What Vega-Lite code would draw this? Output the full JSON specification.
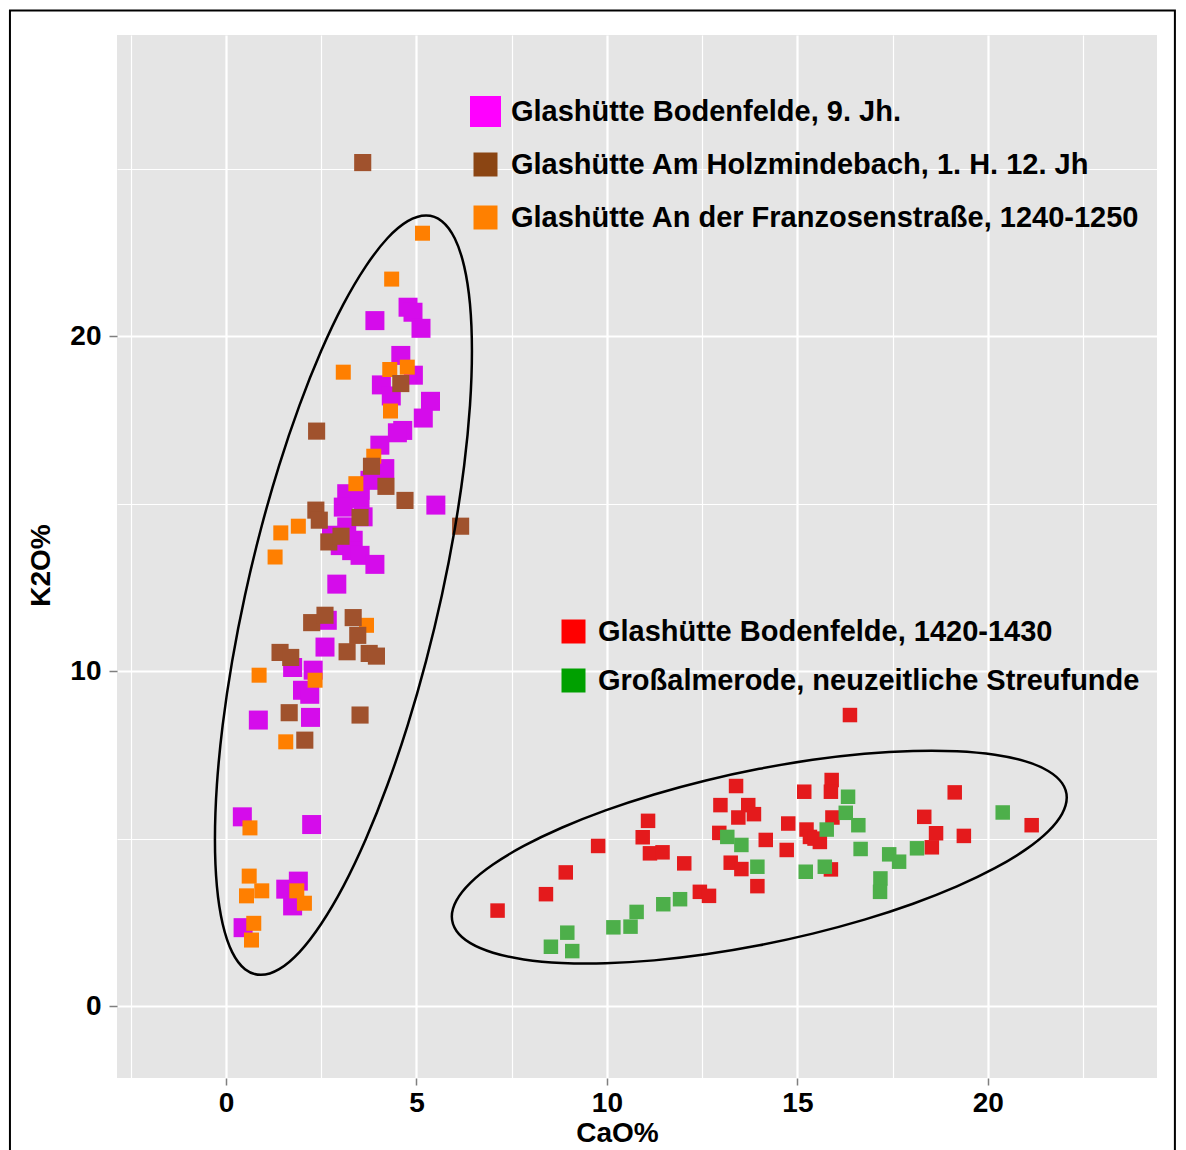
{
"$schema": "https://vega.github.io/schema/vega-lite/v6.json",
"width": 1040, "height": 1043,
"autosize": {"type": "none"},
"padding": {"left": 117, "top": 35, "right": 29, "bottom": 72},
"background": "white",
"config": {"view": {"fill": "#E5E5E5", "stroke": null}, "font": "Liberation Sans"},
"datasets": {
"pts": [
{"series":"Glashütte Bodenfelde, 9. Jh.","CaO":3.91,"K2O":20.47},
{"series":"Glashütte Bodenfelde, 9. Jh.","CaO":4.78,"K2O":20.87},
{"series":"Glashütte Bodenfelde, 9. Jh.","CaO":4.91,"K2O":20.72},
{"series":"Glashütte Bodenfelde, 9. Jh.","CaO":5.12,"K2O":20.24},
{"series":"Glashütte Bodenfelde, 9. Jh.","CaO":4.59,"K2O":19.43},
{"series":"Glashütte Bodenfelde, 9. Jh.","CaO":4.92,"K2O":18.84},
{"series":"Glashütte Bodenfelde, 9. Jh.","CaO":4.08,"K2O":18.55},
{"series":"Glashütte Bodenfelde, 9. Jh.","CaO":4.34,"K2O":18.22},
{"series":"Glashütte Bodenfelde, 9. Jh.","CaO":5.37,"K2O":18.06},
{"series":"Glashütte Bodenfelde, 9. Jh.","CaO":5.18,"K2O":17.56},
{"series":"Glashütte Bodenfelde, 9. Jh.","CaO":4.64,"K2O":17.19},
{"series":"Glashütte Bodenfelde, 9. Jh.","CaO":4.50,"K2O":17.12},
{"series":"Glashütte Bodenfelde, 9. Jh.","CaO":4.04,"K2O":16.75},
{"series":"Glashütte Bodenfelde, 9. Jh.","CaO":4.17,"K2O":16.05},
{"series":"Glashütte Bodenfelde, 9. Jh.","CaO":3.78,"K2O":15.70},
{"series":"Glashütte Bodenfelde, 9. Jh.","CaO":3.52,"K2O":15.40},
{"series":"Glashütte Bodenfelde, 9. Jh.","CaO":3.17,"K2O":15.30},
{"series":"Glashütte Bodenfelde, 9. Jh.","CaO":3.08,"K2O":14.90},
{"series":"Glashütte Bodenfelde, 9. Jh.","CaO":3.52,"K2O":15.16},
{"series":"Glashütte Bodenfelde, 9. Jh.","CaO":5.51,"K2O":14.96},
{"series":"Glashütte Bodenfelde, 9. Jh.","CaO":3.60,"K2O":14.61},
{"series":"Glashütte Bodenfelde, 9. Jh.","CaO":3.17,"K2O":14.31},
{"series":"Glashütte Bodenfelde, 9. Jh.","CaO":2.77,"K2O":14.06},
{"series":"Glashütte Bodenfelde, 9. Jh.","CaO":3.34,"K2O":13.91},
{"series":"Glashütte Bodenfelde, 9. Jh.","CaO":3.00,"K2O":13.75},
{"series":"Glashütte Bodenfelde, 9. Jh.","CaO":3.30,"K2O":13.60},
{"series":"Glashütte Bodenfelde, 9. Jh.","CaO":3.52,"K2O":13.46},
{"series":"Glashütte Bodenfelde, 9. Jh.","CaO":3.91,"K2O":13.19},
{"series":"Glashütte Bodenfelde, 9. Jh.","CaO":2.91,"K2O":12.60},
{"series":"Glashütte Bodenfelde, 9. Jh.","CaO":2.66,"K2O":11.52},
{"series":"Glashütte Bodenfelde, 9. Jh.","CaO":2.60,"K2O":10.72},
{"series":"Glashütte Bodenfelde, 9. Jh.","CaO":1.75,"K2O":10.11},
{"series":"Glashütte Bodenfelde, 9. Jh.","CaO":2.29,"K2O":10.03},
{"series":"Glashütte Bodenfelde, 9. Jh.","CaO":2.01,"K2O":9.43},
{"series":"Glashütte Bodenfelde, 9. Jh.","CaO":2.20,"K2O":9.31},
{"series":"Glashütte Bodenfelde, 9. Jh.","CaO":0.85,"K2O":8.54},
{"series":"Glashütte Bodenfelde, 9. Jh.","CaO":2.22,"K2O":8.62},
{"series":"Glashütte Bodenfelde, 9. Jh.","CaO":0.43,"K2O":5.65},
{"series":"Glashütte Bodenfelde, 9. Jh.","CaO":2.25,"K2O":5.42},
{"series":"Glashütte Bodenfelde, 9. Jh.","CaO":1.90,"K2O":3.73},
{"series":"Glashütte Bodenfelde, 9. Jh.","CaO":1.57,"K2O":3.49},
{"series":"Glashütte Bodenfelde, 9. Jh.","CaO":1.75,"K2O":2.99},
{"series":"Glashütte Bodenfelde, 9. Jh.","CaO":0.45,"K2O":2.34},
{"series":"Glashütte An der Franzosenstraße, 1240-1250","CaO":5.16,"K2O":23.08},
{"series":"Glashütte An der Franzosenstraße, 1240-1250","CaO":4.35,"K2O":21.71},
{"series":"Glashütte An der Franzosenstraße, 1240-1250","CaO":4.30,"K2O":19.01},
{"series":"Glashütte An der Franzosenstraße, 1240-1250","CaO":4.76,"K2O":19.08},
{"series":"Glashütte An der Franzosenstraße, 1240-1250","CaO":3.08,"K2O":18.93},
{"series":"Glashütte An der Franzosenstraße, 1240-1250","CaO":4.32,"K2O":17.77},
{"series":"Glashütte An der Franzosenstraße, 1240-1250","CaO":3.88,"K2O":16.42},
{"series":"Glashütte An der Franzosenstraße, 1240-1250","CaO":3.41,"K2O":15.60},
{"series":"Glashütte An der Franzosenstraße, 1240-1250","CaO":1.90,"K2O":14.33},
{"series":"Glashütte An der Franzosenstraße, 1240-1250","CaO":1.44,"K2O":14.13},
{"series":"Glashütte An der Franzosenstraße, 1240-1250","CaO":1.29,"K2O":13.41},
{"series":"Glashütte An der Franzosenstraße, 1240-1250","CaO":3.69,"K2O":11.37},
{"series":"Glashütte An der Franzosenstraße, 1240-1250","CaO":0.87,"K2O":9.88},
{"series":"Glashütte An der Franzosenstraße, 1240-1250","CaO":2.34,"K2O":9.73},
{"series":"Glashütte An der Franzosenstraße, 1240-1250","CaO":1.57,"K2O":7.89},
{"series":"Glashütte An der Franzosenstraße, 1240-1250","CaO":0.63,"K2O":5.32},
{"series":"Glashütte An der Franzosenstraße, 1240-1250","CaO":0.61,"K2O":3.88},
{"series":"Glashütte An der Franzosenstraße, 1240-1250","CaO":0.94,"K2O":3.44},
{"series":"Glashütte An der Franzosenstraße, 1240-1250","CaO":0.54,"K2O":3.29},
{"series":"Glashütte An der Franzosenstraße, 1240-1250","CaO":1.86,"K2O":3.44},
{"series":"Glashütte An der Franzosenstraße, 1240-1250","CaO":2.06,"K2O":3.07},
{"series":"Glashütte An der Franzosenstraße, 1240-1250","CaO":0.73,"K2O":2.47},
{"series":"Glashütte An der Franzosenstraße, 1240-1250","CaO":0.67,"K2O":1.97},
{"series":"Glashütte Am Holzmindebach, 1. H. 12. Jh","CaO":3.59,"K2O":25.19},
{"series":"Glashütte Am Holzmindebach, 1. H. 12. Jh","CaO":4.59,"K2O":18.59},
{"series":"Glashütte Am Holzmindebach, 1. H. 12. Jh","CaO":2.38,"K2O":17.17},
{"series":"Glashütte Am Holzmindebach, 1. H. 12. Jh","CaO":3.82,"K2O":16.12},
{"series":"Glashütte Am Holzmindebach, 1. H. 12. Jh","CaO":4.20,"K2O":15.52},
{"series":"Glashütte Am Holzmindebach, 1. H. 12. Jh","CaO":4.70,"K2O":15.10},
{"series":"Glashütte Am Holzmindebach, 1. H. 12. Jh","CaO":2.36,"K2O":14.81},
{"series":"Glashütte Am Holzmindebach, 1. H. 12. Jh","CaO":2.45,"K2O":14.51},
{"series":"Glashütte Am Holzmindebach, 1. H. 12. Jh","CaO":3.52,"K2O":14.59},
{"series":"Glashütte Am Holzmindebach, 1. H. 12. Jh","CaO":6.16,"K2O":14.33},
{"series":"Glashütte Am Holzmindebach, 1. H. 12. Jh","CaO":2.70,"K2O":13.86},
{"series":"Glashütte Am Holzmindebach, 1. H. 12. Jh","CaO":3.02,"K2O":14.03},
{"series":"Glashütte Am Holzmindebach, 1. H. 12. Jh","CaO":2.25,"K2O":11.45},
{"series":"Glashütte Am Holzmindebach, 1. H. 12. Jh","CaO":2.60,"K2O":11.67},
{"series":"Glashütte Am Holzmindebach, 1. H. 12. Jh","CaO":3.34,"K2O":11.60},
{"series":"Glashütte Am Holzmindebach, 1. H. 12. Jh","CaO":3.46,"K2O":11.07},
{"series":"Glashütte Am Holzmindebach, 1. H. 12. Jh","CaO":3.18,"K2O":10.58},
{"series":"Glashütte Am Holzmindebach, 1. H. 12. Jh","CaO":1.42,"K2O":10.56},
{"series":"Glashütte Am Holzmindebach, 1. H. 12. Jh","CaO":1.70,"K2O":10.41},
{"series":"Glashütte Am Holzmindebach, 1. H. 12. Jh","CaO":3.76,"K2O":10.53},
{"series":"Glashütte Am Holzmindebach, 1. H. 12. Jh","CaO":3.95,"K2O":10.45},
{"series":"Glashütte Am Holzmindebach, 1. H. 12. Jh","CaO":1.66,"K2O":8.76},
{"series":"Glashütte Am Holzmindebach, 1. H. 12. Jh","CaO":3.52,"K2O":8.69},
{"series":"Glashütte Am Holzmindebach, 1. H. 12. Jh","CaO":2.07,"K2O":7.94},
{"series":"Glashütte Bodenfelde, 1420-1430","CaO":7.13,"K2O":2.85},
{"series":"Glashütte Bodenfelde, 1420-1430","CaO":8.40,"K2O":3.34},
{"series":"Glashütte Bodenfelde, 1420-1430","CaO":8.92,"K2O":3.99},
{"series":"Glashütte Bodenfelde, 1420-1430","CaO":9.77,"K2O":4.78},
{"series":"Glashütte Bodenfelde, 1420-1430","CaO":11.08,"K2O":5.53},
{"series":"Glashütte Bodenfelde, 1420-1430","CaO":10.94,"K2O":5.04},
{"series":"Glashütte Bodenfelde, 1420-1430","CaO":11.13,"K2O":4.56},
{"series":"Glashütte Bodenfelde, 1420-1430","CaO":11.46,"K2O":4.59},
{"series":"Glashütte Bodenfelde, 1420-1430","CaO":12.03,"K2O":4.26},
{"series":"Glashütte Bodenfelde, 1420-1430","CaO":12.44,"K2O":3.41},
{"series":"Glashütte Bodenfelde, 1420-1430","CaO":12.68,"K2O":3.29},
{"series":"Glashütte Bodenfelde, 1420-1430","CaO":13.39,"K2O":6.57},
{"series":"Glashütte Bodenfelde, 1420-1430","CaO":12.98,"K2O":6.00},
{"series":"Glashütte Bodenfelde, 1420-1430","CaO":13.71,"K2O":6.00},
{"series":"Glashütte Bodenfelde, 1420-1430","CaO":13.45,"K2O":5.63},
{"series":"Glashütte Bodenfelde, 1420-1430","CaO":13.86,"K2O":5.73},
{"series":"Glashütte Bodenfelde, 1420-1430","CaO":12.95,"K2O":5.17},
{"series":"Glashütte Bodenfelde, 1420-1430","CaO":14.17,"K2O":4.96},
{"series":"Glashütte Bodenfelde, 1420-1430","CaO":13.25,"K2O":4.28},
{"series":"Glashütte Bodenfelde, 1420-1430","CaO":13.53,"K2O":4.09},
{"series":"Glashütte Bodenfelde, 1420-1430","CaO":13.95,"K2O":3.58},
{"series":"Glashütte Bodenfelde, 1420-1430","CaO":16.38,"K2O":8.69},
{"series":"Glashütte Bodenfelde, 1420-1430","CaO":15.18,"K2O":6.40},
{"series":"Glashütte Bodenfelde, 1420-1430","CaO":15.90,"K2O":6.75},
{"series":"Glashütte Bodenfelde, 1420-1430","CaO":15.88,"K2O":6.40},
{"series":"Glashütte Bodenfelde, 1420-1430","CaO":15.92,"K2O":5.63},
{"series":"Glashütte Bodenfelde, 1420-1430","CaO":14.76,"K2O":5.45},
{"series":"Glashütte Bodenfelde, 1420-1430","CaO":15.24,"K2O":5.27},
{"series":"Glashütte Bodenfelde, 1420-1430","CaO":15.33,"K2O":5.05},
{"series":"Glashütte Bodenfelde, 1420-1430","CaO":15.59,"K2O":4.90},
{"series":"Glashütte Bodenfelde, 1420-1430","CaO":15.45,"K2O":5.00},
{"series":"Glashütte Bodenfelde, 1420-1430","CaO":14.72,"K2O":4.66},
{"series":"Glashütte Bodenfelde, 1420-1430","CaO":15.88,"K2O":4.08},
{"series":"Glashütte Bodenfelde, 1420-1430","CaO":18.33,"K2O":5.65},
{"series":"Glashütte Bodenfelde, 1420-1430","CaO":18.64,"K2O":5.16},
{"series":"Glashütte Bodenfelde, 1420-1430","CaO":18.53,"K2O":4.74},
{"series":"Glashütte Bodenfelde, 1420-1430","CaO":19.13,"K2O":6.38},
{"series":"Glashütte Bodenfelde, 1420-1430","CaO":19.37,"K2O":5.08},
{"series":"Glashütte Bodenfelde, 1420-1430","CaO":21.15,"K2O":5.40},
{"series":"Großalmerode, neuzeitliche Streufunde","CaO":13.16,"K2O":5.05},
{"series":"Großalmerode, neuzeitliche Streufunde","CaO":13.53,"K2O":4.81},
{"series":"Großalmerode, neuzeitliche Streufunde","CaO":13.95,"K2O":4.16},
{"series":"Großalmerode, neuzeitliche Streufunde","CaO":11.92,"K2O":3.19},
{"series":"Großalmerode, neuzeitliche Streufunde","CaO":11.48,"K2O":3.04},
{"series":"Großalmerode, neuzeitliche Streufunde","CaO":10.78,"K2O":2.81},
{"series":"Großalmerode, neuzeitliche Streufunde","CaO":10.62,"K2O":2.37},
{"series":"Großalmerode, neuzeitliche Streufunde","CaO":10.17,"K2O":2.35},
{"series":"Großalmerode, neuzeitliche Streufunde","CaO":8.96,"K2O":2.19},
{"series":"Großalmerode, neuzeitliche Streufunde","CaO":8.53,"K2O":1.77},
{"series":"Großalmerode, neuzeitliche Streufunde","CaO":9.09,"K2O":1.64},
{"series":"Großalmerode, neuzeitliche Streufunde","CaO":16.33,"K2O":6.25},
{"series":"Großalmerode, neuzeitliche Streufunde","CaO":16.27,"K2O":5.77},
{"series":"Großalmerode, neuzeitliche Streufunde","CaO":15.77,"K2O":5.27},
{"series":"Großalmerode, neuzeitliche Streufunde","CaO":16.60,"K2O":5.40},
{"series":"Großalmerode, neuzeitliche Streufunde","CaO":16.66,"K2O":4.69},
{"series":"Großalmerode, neuzeitliche Streufunde","CaO":15.22,"K2O":4.01},
{"series":"Großalmerode, neuzeitliche Streufunde","CaO":15.72,"K2O":4.16},
{"series":"Großalmerode, neuzeitliche Streufunde","CaO":17.41,"K2O":4.53},
{"series":"Großalmerode, neuzeitliche Streufunde","CaO":17.67,"K2O":4.31},
{"series":"Großalmerode, neuzeitliche Streufunde","CaO":17.18,"K2O":3.81},
{"series":"Großalmerode, neuzeitliche Streufunde","CaO":17.17,"K2O":3.41},
{"series":"Großalmerode, neuzeitliche Streufunde","CaO":18.14,"K2O":4.71},
{"series":"Großalmerode, neuzeitliche Streufunde","CaO":20.39,"K2O":5.78}
],
"ell": [
{"ell":"L","i":0,"CaO":6.457,"K2O":19.56},{"ell":"L","i":1,"CaO":6.406,"K2O":20.96},{"ell":"L","i":2,"CaO":6.254,"K2O":22.09},{"ell":"L","i":3,"CaO":6.005,"K2O":22.93},{"ell":"L","i":4,"CaO":5.668,"K2O":23.44},{"ell":"L","i":5,"CaO":5.252,"K2O":23.61},{"ell":"L","i":6,"CaO":4.771,"K2O":23.44},{"ell":"L","i":7,"CaO":4.238,"K2O":22.93},{"ell":"L","i":8,"CaO":3.670,"K2O":22.09},{"ell":"L","i":9,"CaO":3.084,"K2O":20.96},{"ell":"L","i":10,"CaO":2.498,"K2O":19.56},{"ell":"L","i":11,"CaO":1.930,"K2O":17.94},{"ell":"L","i":12,"CaO":1.397,"K2O":16.15},{"ell":"L","i":13,"CaO":0.916,"K2O":14.24},{"ell":"L","i":14,"CaO":0.500,"K2O":12.27},{"ell":"L","i":15,"CaO":0.163,"K2O":10.30},{"ell":"L","i":16,"CaO":-0.086,"K2O":8.39},{"ell":"L","i":17,"CaO":-0.238,"K2O":6.60},{"ell":"L","i":18,"CaO":-0.289,"K2O":4.98},{"ell":"L","i":19,"CaO":-0.238,"K2O":3.58},{"ell":"L","i":20,"CaO":-0.086,"K2O":2.45},{"ell":"L","i":21,"CaO":0.163,"K2O":1.61},{"ell":"L","i":22,"CaO":0.500,"K2O":1.10},{"ell":"L","i":23,"CaO":0.916,"K2O":0.93},{"ell":"L","i":24,"CaO":1.397,"K2O":1.10},{"ell":"L","i":25,"CaO":1.930,"K2O":1.61},{"ell":"L","i":26,"CaO":2.498,"K2O":2.45},{"ell":"L","i":27,"CaO":3.084,"K2O":3.58},{"ell":"L","i":28,"CaO":3.670,"K2O":4.98},{"ell":"L","i":29,"CaO":4.238,"K2O":6.60},{"ell":"L","i":30,"CaO":4.771,"K2O":8.39},{"ell":"L","i":31,"CaO":5.252,"K2O":10.30},{"ell":"L","i":32,"CaO":5.668,"K2O":12.27},{"ell":"L","i":33,"CaO":6.005,"K2O":14.24},{"ell":"L","i":34,"CaO":6.254,"K2O":16.15},{"ell":"L","i":35,"CaO":6.406,"K2O":17.94},
{"ell":"R","i":0,"CaO":22.071,"K2O":6.226},{"ell":"R","i":1,"CaO":21.948,"K2O":6.656},{"ell":"R","i":2,"CaO":21.584,"K2O":7.020},{"ell":"R","i":3,"CaO":20.990,"K2O":7.305},{"ell":"R","i":4,"CaO":20.182,"K2O":7.504},{"ell":"R","i":5,"CaO":19.188,"K2O":7.610},{"ell":"R","i":6,"CaO":18.036,"K2O":7.619},{"ell":"R","i":7,"CaO":16.760,"K2O":7.533},{"ell":"R","i":8,"CaO":15.401,"K2O":7.352},{"ell":"R","i":9,"CaO":14.000,"K2O":7.083},{"ell":"R","i":10,"CaO":12.599,"K2O":6.735},{"ell":"R","i":11,"CaO":11.240,"K2O":6.317},{"ell":"R","i":12,"CaO":9.964,"K2O":5.842},{"ell":"R","i":13,"CaO":8.812,"K2O":5.324},{"ell":"R","i":14,"CaO":7.818,"K2O":4.780},{"ell":"R","i":15,"CaO":7.010,"K2O":4.226},{"ell":"R","i":16,"CaO":6.416,"K2O":3.679},{"ell":"R","i":17,"CaO":6.052,"K2O":3.155},{"ell":"R","i":18,"CaO":5.929,"K2O":2.670},{"ell":"R","i":19,"CaO":6.052,"K2O":2.240},{"ell":"R","i":20,"CaO":6.416,"K2O":1.876},{"ell":"R","i":21,"CaO":7.010,"K2O":1.591},{"ell":"R","i":22,"CaO":7.818,"K2O":1.392},{"ell":"R","i":23,"CaO":8.812,"K2O":1.286},{"ell":"R","i":24,"CaO":9.964,"K2O":1.277},{"ell":"R","i":25,"CaO":11.240,"K2O":1.363},{"ell":"R","i":26,"CaO":12.599,"K2O":1.544},{"ell":"R","i":27,"CaO":14.000,"K2O":1.813},{"ell":"R","i":28,"CaO":15.401,"K2O":2.161},{"ell":"R","i":29,"CaO":16.760,"K2O":2.579},{"ell":"R","i":30,"CaO":18.036,"K2O":3.054},{"ell":"R","i":31,"CaO":19.188,"K2O":3.572},{"ell":"R","i":32,"CaO":20.182,"K2O":4.116},{"ell":"R","i":33,"CaO":20.990,"K2O":4.670},{"ell":"R","i":34,"CaO":21.584,"K2O":5.217},{"ell":"R","i":35,"CaO":21.948,"K2O":5.741}
],
"frame": [
{"i":0,"CaO":-5.67,"K2O":29.73},{"i":1,"CaO":24.91,"K2O":29.73},{"i":2,"CaO":24.91,"K2O":-4.75},{"i":3,"CaO":-5.67,"K2O":-4.75}
]
},
"data": {"name": "pts"},
"encoding": {
 "x": {"field": "CaO", "type": "quantitative",
  "scale": {"domain": [-2.86, 24.44], "nice": false, "zero": false},
  "axis": {"title": "CaO%", "values": [-2.5,0,2.5,5,7.5,10,12.5,15,17.5,20,22.5],
   "labelExpr": "datum.value % 5 === 0 ? datum.label : ''",
   "grid": true, "gridColor": "white", "gridOpacity": 1,
   "gridWidth": {"condition": {"test": "datum.value % 5 === 0", "value": 2.2}, "value": 1.2},
   "domain": false, "tickColor": "#7F7F7F", "tickSize": 7, "tickWidth": 1.5,
   "tickOpacity": {"condition": {"test": "datum.value % 5 === 0", "value": 1}, "value": 0},
   "labelFont": "Liberation Sans", "labelFontSize": 28, "labelFontWeight": "bold", "labelColor": "black",
   "labelPadding": 4, "labelFlush": false, "labelOverlap": false,
   "titleFont": "Liberation Sans", "titleFontSize": 28, "titleFontWeight": "bold", "titleColor": "black",
   "titlePadding": 2, "titleX": 500}},
 "y": {"field": "K2O", "type": "quantitative",
  "scale": {"domain": [-2.15, 29.0], "nice": false, "zero": false},
  "axis": {"title": "K2O%", "values": [0,5,10,15,20,25],
   "labelExpr": "datum.value % 10 === 0 ? datum.label : ''",
   "grid": true, "gridColor": "white", "gridOpacity": 1,
   "gridWidth": {"condition": {"test": "datum.value % 10 === 0", "value": 2.2}, "value": 1.2},
   "domain": false, "tickColor": "#7F7F7F", "tickSize": 8, "tickWidth": 1.5,
   "tickOpacity": {"condition": {"test": "datum.value % 10 === 0", "value": 1}, "value": 0},
   "labelFont": "Liberation Sans", "labelFontSize": 28, "labelFontWeight": "bold", "labelColor": "black",
   "labelPadding": 8, "labelFlush": false, "labelOverlap": false,
   "titleFont": "Liberation Sans", "titleFontSize": 28, "titleFontWeight": "bold", "titleColor": "black",
   "titlePadding": 14, "titleY": 530}}
},
"layer": [
 {"transform": [{"filter": {"field": "series", "oneOf": ["Glashütte Bodenfelde, 9. Jh.", "Glashütte Am Holzmindebach, 1. H. 12. Jh", "Glashütte An der Franzosenstraße, 1240-1250"]}}],
  "mark": {"type": "square", "opacity": 1},
  "encoding": {
   "color": {"field": "series", "type": "nominal", "scale": {"domain": ["Glashütte Bodenfelde, 9. Jh.", "Glashütte Am Holzmindebach, 1. H. 12. Jh", "Glashütte An der Franzosenstraße, 1240-1250"], "range": ["#D50CEB", "#A0522D", "#FF7F00"]}, "legend": null},
   "size": {"field": "series", "type": "nominal", "scale": {"domain": ["Glashütte Bodenfelde, 9. Jh.", "Glashütte Am Holzmindebach, 1. H. 12. Jh", "Glashütte An der Franzosenstraße, 1240-1250"], "range": [361, 225, 210]}, "legend": null}}},
 {"transform": [{"filter": {"field": "series", "oneOf": ["Glashütte Bodenfelde, 1420-1430", "Großalmerode, neuzeitliche Streufunde"]}}],
  "mark": {"type": "square", "opacity": 1, "size": 210},
  "encoding": {
   "color": {"field": "series", "type": "nominal", "scale": {"domain": ["Glashütte Bodenfelde, 1420-1430", "Großalmerode, neuzeitliche Streufunde"], "range": ["#E41A1C", "#4DAF4A"]}, "legend": null}}},
 {"data": {"name": "ell"},
  "mark": {"type": "line", "interpolate": "cardinal-closed", "color": "black", "strokeWidth": 2.5},
  "encoding": {"detail": {"field": "ell", "type": "nominal"}, "order": {"field": "i", "type": "quantitative"}}},
 {"data": {"name": "frame"},
  "mark": {"type": "line", "interpolate": "linear-closed", "color": "black", "strokeWidth": 2, "clip": false},
  "encoding": {"order": {"field": "i", "type": "quantitative"}}},
 {"transform": [{"filter": {"field": "series", "oneOf": ["Glashütte Bodenfelde, 9. Jh.", "Glashütte Am Holzmindebach, 1. H. 12. Jh", "Glashütte An der Franzosenstraße, 1240-1250"]}}],
  "mark": {"type": "square", "opacity": 0},
  "encoding": {
   "color": {"field": "series", "type": "nominal", "scale": {"domain": ["Glashütte Bodenfelde, 9. Jh.", "Glashütte Am Holzmindebach, 1. H. 12. Jh", "Glashütte An der Franzosenstraße, 1240-1250"], "range": ["#FF00FF", "#8B4513", "#FF8000"]},
    "legend": {"orient": "none", "legendX": 354, "legendY": 62, "title": null, "symbolType": "square", "symbolSize": 576, "symbolOpacity": 1, "symbolStrokeWidth": 0,
     "labelFont": "Liberation Sans", "labelFontSize": 29, "labelFontWeight": "bold", "labelColor": "black", "labelLimit": 1000,
     "labelOffset": 11, "rowPadding": 23, "padding": 0,
     "encode": {"symbols": {"update": {"size": {"signal": "datum.value === 'Glashütte Bodenfelde, 9. Jh.' ? 960 : 576"}, "opacity": {"value": 1}}}}}}}},
 {"transform": [{"filter": {"field": "series", "oneOf": ["Glashütte Bodenfelde, 1420-1430", "Großalmerode, neuzeitliche Streufunde"]}}],
  "mark": {"type": "square", "opacity": 0},
  "encoding": {
   "color": {"field": "series", "type": "nominal", "scale": {"domain": ["Glashütte Bodenfelde, 1420-1430", "Großalmerode, neuzeitliche Streufunde"], "range": ["#FF0000", "#00A000"]},
    "legend": {"orient": "none", "legendX": 442, "legendY": 582, "title": null, "symbolType": "square", "symbolSize": 576, "symbolOpacity": 1, "symbolStrokeWidth": 0,
     "labelFont": "Liberation Sans", "labelFontSize": 29, "labelFontWeight": "bold", "labelColor": "black", "labelLimit": 1000,
     "labelOffset": 10, "rowPadding": 19, "padding": 0}}}}
],
"resolve": {"scale": {"color": "independent", "size": "independent"}, "legend": {"color": "independent", "size": "independent"}}
}
